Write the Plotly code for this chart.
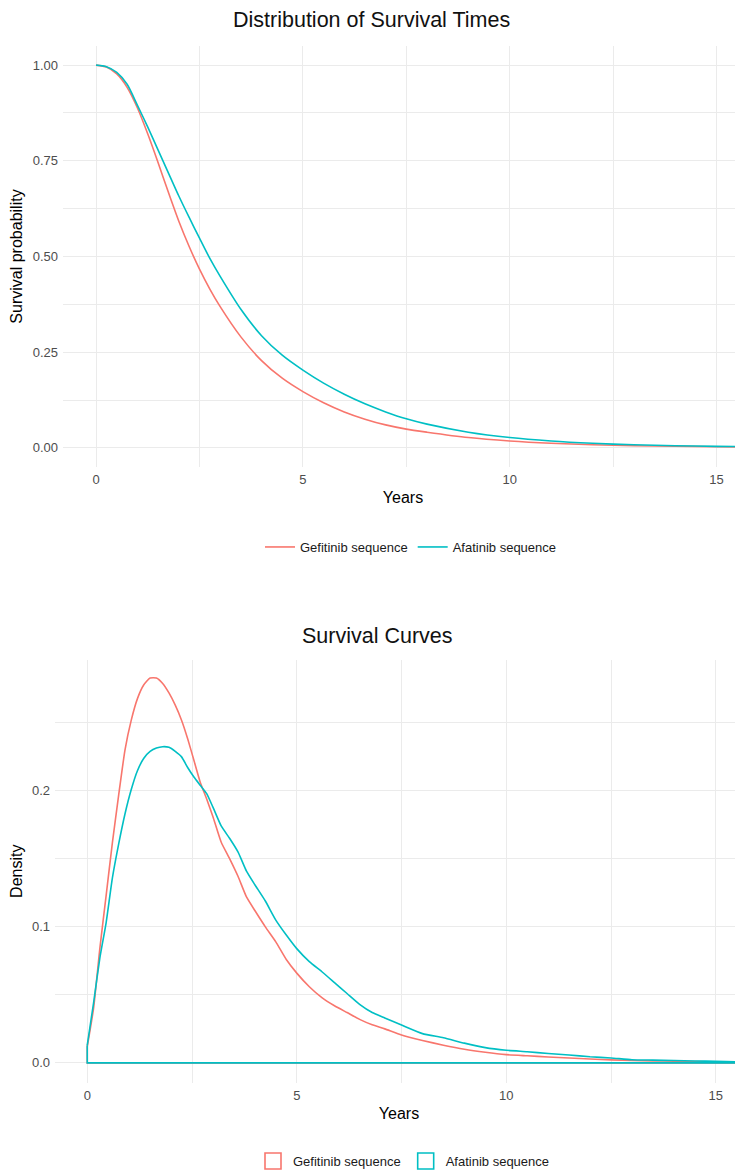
import plotly.graph_objects as go

# ---------------- data ----------------
series_names = ["Gefitinib sequence", "Afatinib sequence"]
series_colors = ["#F8766D", "#00BFC4"]

# Top panel: survival probability by year
surv_years = [0, 0.25, 0.5, 0.75, 1.0, 1.25, 1.5, 1.75, 2.0, 2.25, 2.5, 2.75, 3.0, 3.5, 4.0,
              4.5, 5.0, 5.5, 6.0, 6.5, 7.0, 7.5, 8.0, 9.0, 10.0, 11.0, 12.0, 13.0, 14.0, 15.0, 16.0]
surv_gefitinib = [1.0, 0.995, 0.977, 0.942, 0.888, 0.820, 0.745, 0.667, 0.592, 0.526, 0.467, 0.415,
                  0.369, 0.290, 0.228, 0.182, 0.147, 0.118, 0.094, 0.075, 0.060, 0.049, 0.041, 0.027,
                  0.018, 0.012, 0.0082, 0.0057, 0.0041, 0.003, 0.0022]
surv_afatinib = [1.0, 0.996, 0.981, 0.950, 0.895, 0.838, 0.778, 0.718, 0.658, 0.602, 0.548, 0.495,
                 0.448, 0.362, 0.293, 0.242, 0.203, 0.169, 0.140, 0.115, 0.094, 0.076, 0.062, 0.041,
                 0.027, 0.018, 0.012, 0.008, 0.0056, 0.004, 0.003]

# Bottom panel: density of survival times
dens_years = [0, 0.15, 0.3, 0.45, 0.6, 0.75, 0.9, 1.05, 1.2, 1.35, 1.5, 1.65, 1.8, 1.95, 2.1, 2.25,
              2.4, 2.55, 2.7, 2.85, 3.0, 3.2, 3.4, 3.6, 3.8, 4.0, 4.25, 4.5, 4.75, 5.0, 5.3, 5.6,
              5.9, 6.2, 6.5, 6.8, 7.1, 7.5, 8.0, 8.5, 9.0, 9.5, 10.0, 10.5, 11.0, 11.5, 12.0, 12.5,
              13.0, 13.5, 14.0, 14.5, 15.0, 15.5, 16.0]
dens_gefitinib = [0.012, 0.040, 0.084, 0.123, 0.162, 0.197, 0.230, 0.252, 0.268, 0.278, 0.283, 0.283,
                  0.279, 0.272, 0.263, 0.252, 0.238, 0.222, 0.206, 0.194, 0.181, 0.162, 0.150, 0.137,
                  0.122, 0.112, 0.100, 0.089, 0.076, 0.066, 0.056, 0.048, 0.042, 0.037, 0.032, 0.028,
                  0.025, 0.0205, 0.0165, 0.013, 0.010, 0.0078, 0.0061, 0.0052, 0.0043, 0.0036, 0.0028,
                  0.0022, 0.0017, 0.0015, 0.0012, 0.0009, 0.0007, 0.0005, 0.0004]
dens_afatinib = [0.013, 0.044, 0.077, 0.103, 0.136, 0.161, 0.183, 0.201, 0.215, 0.224, 0.229, 0.2315,
                 0.2325, 0.232, 0.229, 0.225, 0.217, 0.210, 0.204, 0.198, 0.188, 0.174, 0.165, 0.155,
                 0.141, 0.131, 0.119, 0.105, 0.094, 0.084, 0.0744, 0.067, 0.059, 0.051, 0.043, 0.037,
                 0.033, 0.0278, 0.0215, 0.0185, 0.0145, 0.0112, 0.0093, 0.0082, 0.0069, 0.0058, 0.0045,
                 0.0036, 0.0023, 0.0020, 0.0017, 0.0014, 0.0012, 0.0008, 0.0006]

surv_y_ticks = [0, 0.25, 0.5, 0.75, 1.0]
dens_y_ticks = [0, 0.1, 0.2]
x_ticks = [0, 5, 10, 15]

# ---------------- figure ----------------
# the page body has an 8px default margin, so the figure is shifted by 8px;
# it is made a little taller than the window so the bottom legend is cut like the original
OFF = 8
W, H = 743 - OFF, 1192 - OFF
FONT = "Liberation Sans, Arial, Helvetica, sans-serif"
GRID = "#EBEBEB"
TICKC = "#4D4D4D"


def px_x(p):
    return (p - OFF) / W


def px_y(p):
    return 1 - (p - OFF) / H


fig = go.Figure()

for name, col, vals in zip(series_names, series_colors, [surv_gefitinib, surv_afatinib]):
    fig.add_trace(go.Scatter(
        x=surv_years, y=vals, mode="lines", name=name,
        line=dict(color=col, width=1.6, shape="spline", smoothing=0.7),
        xaxis="x", yaxis="y", legend="legend", hoverinfo="skip"))

for name, col, vals in zip(series_names, series_colors, [dens_gefitinib, dens_afatinib]):
    # baseline and left edge of the density outline
    fig.add_trace(go.Scatter(
        x=[dens_years[-1], dens_years[0], dens_years[0]], y=[0, 0, vals[0]],
        mode="lines", showlegend=False, line=dict(color=col, width=1.6),
        xaxis="x2", yaxis="y2", hoverinfo="skip"))
    # density curve
    fig.add_trace(go.Scatter(
        x=dens_years, y=vals, mode="lines", showlegend=False,
        line=dict(color=col, width=1.6, shape="spline", smoothing=0.5),
        xaxis="x2", yaxis="y2", hoverinfo="skip"))

for name, col in zip(series_names, series_colors):
    fig.add_trace(go.Scatter(
        x=[None], y=[None], mode="markers", name=name,
        marker=dict(symbol="square-open", size=16, color=col, line=dict(width=1.6, color=col)),
        xaxis="x2", yaxis="y2", legend="legend2"))

common_x = dict(
    tickmode="array", tickvals=x_ticks, ticktext=[str(v) for v in x_ticks],
    showgrid=True, gridcolor=GRID, gridwidth=1.3,
    minor=dict(dtick=2.5, tick0=0, showgrid=True, gridcolor=GRID, gridwidth=0.7),
    zeroline=False, showline=False, ticks="",
    tickfont=dict(family=FONT, size=13, color=TICKC),
    title=dict(text="Years", font=dict(family=FONT, size=16, color="#000000"), standoff=5),
    automargin=False, fixedrange=True, ticklabelstandoff=3,
)

common_y = dict(
    showgrid=True, gridcolor=GRID, gridwidth=1.3,
    zeroline=False, showline=False, ticks="",
    tickfont=dict(family=FONT, size=13, color=TICKC),
    automargin=False, fixedrange=True, ticklabelstandoff=4,
)

fig.update_layout(
    width=W, height=H,
    margin=dict(l=0, r=0, t=0, b=0),
    paper_bgcolor="white", plot_bgcolor="white",
    font=dict(family=FONT),
    xaxis=dict(common_x, domain=[px_x(63), 1], anchor="y", range=[-0.80, 15.64]),
    yaxis=dict(
        common_y,
        domain=[px_y(467), px_y(46)], anchor="x", range=[-0.05, 1.05],
        tickmode="array", tickvals=surv_y_ticks, ticktext=[f"{v:.2f}" for v in surv_y_ticks],
        minor=dict(dtick=0.125, tick0=0, showgrid=True, gridcolor=GRID, gridwidth=0.7),
        title=dict(text="Survival probability", font=dict(family=FONT, size=16, color="#000000"), standoff=6),
    ),
    xaxis2=dict(common_x, domain=[px_x(55), 1], anchor="y2", range=[-0.77, 15.65]),
    yaxis2=dict(
        common_y,
        domain=[px_y(1083), px_y(659.5)], anchor="x2", range=[-0.0148, 0.2966],
        tickmode="array", tickvals=dens_y_ticks, ticktext=[f"{v:.1f}" for v in dens_y_ticks],
        minor=dict(dtick=0.05, tick0=0, showgrid=True, gridcolor=GRID, gridwidth=0.7),
        title=dict(text="Density", font=dict(family=FONT, size=16, color="#000000"), standoff=6),
    ),
    legend=dict(orientation="h", x=px_x(411), xanchor="center", y=px_y(547), yanchor="middle",
                font=dict(family=FONT, size=13, color="#1a1a1a"), bgcolor="rgba(0,0,0,0)",
                itemclick=False, itemdoubleclick=False),
    legend2=dict(orientation="h", x=px_x(404), xanchor="center", y=px_y(1161), yanchor="middle",
                 font=dict(family=FONT, size=13, color="#1a1a1a"), bgcolor="rgba(0,0,0,0)",
                 itemclick=False, itemdoubleclick=False),
    annotations=[
        dict(text="Distribution of Survival Times", x=px_x(371), y=px_y(20), xref="paper", yref="paper",
             xanchor="center", yanchor="middle", showarrow=False,
             font=dict(family=FONT, size=21.5, color="#111111")),
        dict(text="Survival Curves", x=px_x(377), y=px_y(636), xref="paper", yref="paper",
             xanchor="center", yanchor="middle", showarrow=False,
             font=dict(family=FONT, size=21.5, color="#111111")),
    ],
)

fig.write_html("out.html", config={"displayModeBar": False})
